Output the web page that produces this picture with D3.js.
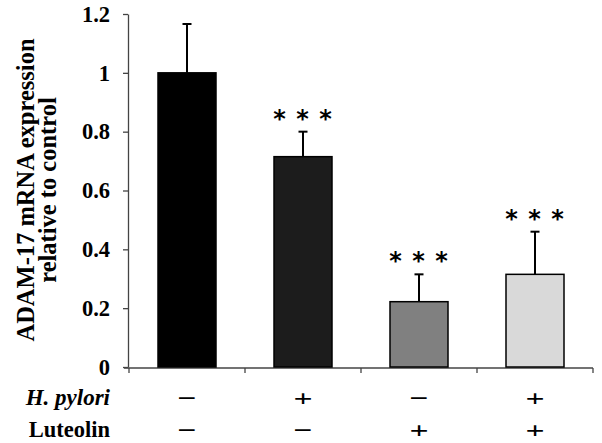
<!DOCTYPE html>
<html>
<head>
<meta charset="utf-8">
<script src="https://cdn.jsdelivr.net/npm/d3@7"></script>
<style>
  body { margin: 0; background: #fff; }
  svg { display: block; }
  text { font-family: "Liberation Serif", "Times New Roman", serif; font-weight: bold; }
</style>
</head>
<body>
<figure id="bar" style="margin:0"></figure>
<script>
// data
const groups = ["g1", "g2", "g3", "g4"];
const means = [1.0, 0.715, 0.222, 0.315];
const errors = [0.166, 0.085, 0.093, 0.145];
const stars = ["", "* * *", "* * *", "* * *"];
const pylori = ["\u2212", "+", "\u2212", "+"];
const luteolin = ["\u2212", "\u2212", "+", "+"];
const yTicks = [0, 0.2, 0.4, 0.6, 0.8, 1, 1.2];
const fills = ["#000000", "#1c1c1c", "#808080", "#d9d9d9"];

const width = 602, height = 443;
const margin = { top: 14, right: 9, bottom: 76, left: 128 };

const svg = d3.select("figure#bar")
  .append("svg")
  .attr("width", width)
  .attr("height", height);

const x = d3.scaleBand()
  .domain(groups)
  .range([margin.left + 1, width - margin.right])
  .paddingInner(0.5)
  .paddingOuter(0.25);

const y = d3.scaleLinear()
  .domain([0, 1.2])
  .range([height - margin.bottom, margin.top]);

// Y axis
const yAxis = svg.append("g")
  .attr("transform", "translate(" + margin.left + ",0)")
  .call(d3.axisLeft(y).tickValues(yTicks).tickSize(5).tickSizeOuter(0)
    .tickFormat(d => d3.format("")(+d.toFixed(1))));
yAxis.select(".domain").attr("stroke", "#444").attr("stroke-width", 1.3);
yAxis.selectAll(".tick line").attr("stroke", "#444").attr("stroke-width", 1.3);
yAxis.selectAll(".tick text")
  .attr("x", -18)
  .attr("fill", "#000")
  .style("font-size", "22.5px")
  .style("font-family", "'Liberation Serif', serif")
  .style("font-weight", "bold");

// X axis (ticks at band edges)
const xAxisY = y(0) + 1;
const edges = groups.map(g => x(g) - x.step() * x.paddingInner() / 2);
edges.push(width - margin.right);
svg.append("line")
  .attr("x1", margin.left - 4).attr("x2", width - margin.right)
  .attr("y1", xAxisY).attr("y2", xAxisY)
  .attr("stroke", "#444").attr("stroke-width", 1.3);
svg.selectAll(".xtick")
  .data(edges)
  .enter()
  .append("line")
  .attr("x1", d => d).attr("x2", d => d)
  .attr("y1", xAxisY).attr("y2", xAxisY + 5)
  .attr("stroke", "#444").attr("stroke-width", 1.3);

// Bars
svg.selectAll(".bar")
  .data(groups)
  .enter()
  .append("rect")
  .attr("x", d => x(d))
  .attr("y", (d, i) => y(means[i]))
  .attr("width", x.bandwidth())
  .attr("height", (d, i) => y(0) - y(means[i]))
  .attr("fill", (d, i) => fills[i])
  .attr("stroke", "#000")
  .attr("stroke-width", 1.5);

// Error bars (upper only)
const cx = g => x(g) + x.bandwidth() / 2;
svg.selectAll(".err")
  .data(groups)
  .enter()
  .append("line")
  .attr("x1", d => cx(d)).attr("x2", d => cx(d))
  .attr("y1", (d, i) => y(means[i]))
  .attr("y2", (d, i) => y(means[i] + errors[i]))
  .attr("stroke", "#000").attr("stroke-width", 2);
svg.selectAll(".cap")
  .data(groups)
  .enter()
  .append("line")
  .attr("x1", d => cx(d) - 4.5).attr("x2", d => cx(d) + 4.5)
  .attr("y1", (d, i) => y(means[i] + errors[i]))
  .attr("y2", (d, i) => y(means[i] + errors[i]))
  .attr("stroke", "#000").attr("stroke-width", 2);

// Significance stars
svg.selectAll(".star")
  .data(groups)
  .enter()
  .append("text")
  .attr("x", d => cx(d))
  .attr("y", (d, i) => y(means[i] + errors[i]) - 5)
  .attr("text-anchor", "middle")
  .style("font-size", "24px")
  .style("font-family", "'DejaVu Sans', sans-serif")
  .style("letter-spacing", "1px")
  .text((d, i) => stars[i]);

// Treatment rows
const rowY = [405, 437];
svg.append("text")
  .attr("x", 110).attr("y", rowY[0])
  .attr("text-anchor", "end")
  .style("font-size", "23px")
  .style("font-style", "italic")
  .text("H. pylori");
svg.append("text")
  .attr("x", 110).attr("y", rowY[1])
  .attr("text-anchor", "end")
  .style("font-size", "22.5px")
  .text("Luteolin");
[pylori, luteolin].forEach((row, r) => {
  svg.selectAll(".row" + r)
    .data(groups)
    .enter()
    .append("text")
    .attr("transform", d => "translate(" + cx(d) + "," + (rowY[r] + 1) + ") scale(1.4,1)")
    .attr("text-anchor", "middle")
    .style("font-size", "24px")
    .text((d, i) => row[i]);
});

// Y axis title
const title = svg.append("text")
  .attr("transform", "translate(0,190) rotate(-90)")
  .attr("text-anchor", "middle")
  .style("font-size", "24.5px");
title.append("tspan").attr("x", 0).attr("y", 34).text("ADAM-17 mRNA expression");
title.append("tspan").attr("x", 0).attr("y", 56).text("relative to control");
</script>
</body>
</html>
